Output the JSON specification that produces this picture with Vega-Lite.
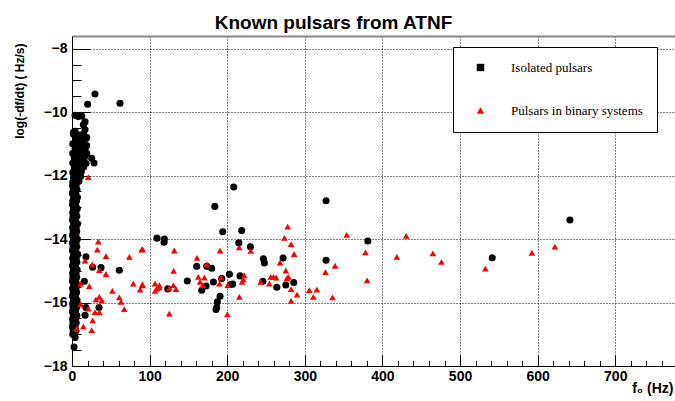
{
  "$schema": "https://vega.github.io/schema/vega-lite/v6.json",
  "width": 603,
  "height": 330,
  "autosize": {"type": "none"},
  "padding": {"left": 72, "top": 36, "right": 0, "bottom": 35},
  "background": "white",
  "title": {"text": "Known pulsars from ATNF", "font": "Liberation Sans", "fontSize": 19, "fontWeight": "bold", "color": "black", "anchor": "middle", "frame": "group", "dx": -40, "offset": -12, "baseline": "alphabetic"},
  "config": {
    "view": {"stroke": null},
    "axis": {"labelFont": "Liberation Sans", "labelFontWeight": "bold", "labelFontSize": 14, "labelColor": "black", "titleFont": "Liberation Sans", "titleFontWeight": "bold", "titleColor": "black", "domainColor": "black", "tickColor": "black", "labelFlush": false, "labelOverlap": false},
    "legend": {"orient": "none", "legendX": 381, "legendY": 11, "padding": 14, "strokeColor": "black", "strokeWidth": 1, "fillColor": "white", "labelFont": "Liberation Serif", "labelFontSize": 13, "labelColor": "black", "symbolOffset": 7, "labelOffset": 24, "rowPadding": 29, "symbolSize": 55, "symbolStrokeWidth": 0, "cornerRadius": 0}
  },
  "datasets": {
    "column": [
      {"f":3.9,"d":-10.1},{"f":8,"d":-10.14},{"f":12.6,"d":-10.12},{"f":16.8,"d":-10.3},{"f":14.6,"d":-10.4},{"f":3.9,"d":-10.6},{"f":1.7,"d":-10.64},{"f":16.8,"d":-10.55},{"f":19,"d":-10.8},{"f":25.4,"d":-11.45},{"f":28.4,"d":-11.6},
      {"f":2,"d":-10.7},{"f":9,"d":-10.72},{"f":15,"d":-10.68},
      {"f":5,"d":-10.85},{"f":12,"d":-10.87},{"f":18,"d":-10.83},
      {"f":1,"d":-11.0},{"f":8,"d":-11.02},{"f":14,"d":-10.98},{"f":19,"d":-11.05},
      {"f":4,"d":-11.15},{"f":11,"d":-11.17},{"f":17,"d":-11.13},
      {"f":1,"d":-11.3},{"f":7,"d":-11.32},{"f":13,"d":-11.28},{"f":19,"d":-11.3},
      {"f":3,"d":-11.45},{"f":10,"d":-11.47},{"f":16,"d":-11.43},
      {"f":1,"d":-11.6},{"f":6,"d":-11.62},{"f":12,"d":-11.58},{"f":18,"d":-11.62},
      {"f":3,"d":-11.75},{"f":9,"d":-11.77},{"f":15,"d":-11.73},
      {"f":1,"d":-11.9},{"f":6,"d":-11.92},{"f":12,"d":-11.88},
      {"f":2,"d":-12.05},{"f":8,"d":-12.07},{"f":11,"d":-12.03},
      {"f":1,"d":-12.2},{"f":6,"d":-12.22},{"f":9,"d":-12.18},
      {"f":0.8,"d":-12.32},{"f":5.2,"d":-12.32},
      {"f":1.6,"d":-12.44},{"f":6.4,"d":-12.44},
      {"f":0.5,"d":-12.56},{"f":4.8,"d":-12.56},
      {"f":2.2,"d":-12.68},{"f":7.0,"d":-12.68},
      {"f":1.0,"d":-12.8},{"f":5.8,"d":-12.8},
      {"f":0.6,"d":-12.92},{"f":4.5,"d":-12.92},
      {"f":1.8,"d":-13.04},{"f":6.8,"d":-13.04},
      {"f":0.9,"d":-13.16},{"f":5.0,"d":-13.16},
      {"f":1.4,"d":-13.28},{"f":6.2,"d":-13.28},
      {"f":0.5,"d":-13.4},{"f":4.6,"d":-13.4},
      {"f":2.0,"d":-13.52},{"f":7.2,"d":-13.52},
      {"f":0.8,"d":-13.64},{"f":5.4,"d":-13.64},
      {"f":1.5,"d":-13.76},{"f":6.0,"d":-13.76},
      {"f":0.6,"d":-13.88},{"f":4.9,"d":-13.88},
      {"f":1.9,"d":-14.0},{"f":6.9,"d":-14.0},
      {"f":0.7,"d":-14.12},{"f":5.3,"d":-14.12},
      {"f":1.3,"d":-14.24},{"f":6.1,"d":-14.24},
      {"f":0.5,"d":-14.36},{"f":4.7,"d":-14.36},
      {"f":2.1,"d":-14.48},{"f":7.4,"d":-14.48},
      {"f":0.9,"d":-14.6},{"f":5.5,"d":-14.6},
      {"f":1.6,"d":-14.72},{"f":6.3,"d":-14.72},
      {"f":0.6,"d":-14.84},{"f":4.6,"d":-14.84},
      {"f":1.8,"d":-14.96},{"f":6.6,"d":-14.96},
      {"f":0.8,"d":-15.08},{"f":5.1,"d":-15.08},
      {"f":1.2,"d":-15.2},{"f":6.0,"d":-15.2},
      {"f":0.5,"d":-15.32},{"f":4.8,"d":-15.32},
      {"f":2.0,"d":-15.44},{"f":7.0,"d":-15.44},
      {"f":0.7,"d":-15.56},{"f":5.2,"d":-15.56},
      {"f":1.5,"d":-15.68},{"f":5.9,"d":-15.68},
      {"f":0.6,"d":-15.8},{"f":4.4,"d":-15.8},
      {"f":1.9,"d":-15.92},{"f":6.5,"d":-15.92},
      {"f":0.8,"d":-16.04},{"f":5.0,"d":-16.04},
      {"f":1.3,"d":-16.16},{"f":5.8,"d":-16.16},
      {"f":0.5,"d":-16.28},{"f":4.3,"d":-16.28},
      {"f":1.7,"d":-16.4},{"f":6.2,"d":-16.4},
      {"f":0.8,"d":-16.52},{"f":4.8,"d":-16.52},
      {"f":1.2,"d":-16.64},{"f":5.4,"d":-16.64},
      {"f":0.6,"d":-16.76},{"f":4.0,"d":-16.76},
      {"f":1.5,"d":-16.88},{"f":5.0,"d":-16.88},
      {"f":1.0,"d":-17.0},{"f":3.5,"d":-17.0},
      {"f":4,"d":-17.1},{"f":2.6,"d":-17.4}
    ],
    "isolated": [
      {"f":29.6,"d":-9.43},{"f":20.2,"d":-9.75},{"f":61.9,"d":-9.72},
      {"f":109.5,"d":-13.97},{"f":18,"d":-14.56},{"f":26.6,"d":-14.89},{"f":37.4,"d":-14.9},{"f":61,"d":-14.98},{"f":15.9,"d":-15.33},{"f":18,"d":-16.16},{"f":34.8,"d":-16.16},{"f":16.8,"d":-16.4},
      {"f":208.4,"d":-12.36},{"f":184,"d":-12.97},{"f":327.4,"d":-12.79},{"f":119,"d":-14.0},{"f":118.6,"d":-14.1},{"f":194.2,"d":-13.77},{"f":218.7,"d":-13.73},{"f":214.9,"d":-14.12},{"f":229.9,"d":-14.24},{"f":246.6,"d":-14.62},{"f":247.9,"d":-14.75},{"f":272,"d":-14.6},{"f":327.4,"d":-14.67},{"f":160.7,"d":-14.86},{"f":173.6,"d":-14.86},{"f":180,"d":-14.92},{"f":148.6,"d":-15.32},{"f":182.2,"d":-15.35},{"f":193,"d":-15.24},{"f":202.8,"d":-15.11},{"f":207,"d":-15.42},{"f":204,"d":-15.43},{"f":216.6,"d":-15.16},{"f":172.7,"d":-15.48},{"f":167.2,"d":-15.61},{"f":123.4,"d":-15.57},{"f":245.9,"d":-15.33},{"f":263.9,"d":-15.52},{"f":275.5,"d":-15.45},{"f":285.8,"d":-15.37},{"f":190.8,"d":-15.8},{"f":187.3,"d":-15.98},{"f":186.5,"d":-16.16},{"f":185.6,"d":-16.22},
      {"f":381.2,"d":-14.06},{"f":541.5,"d":-14.59},{"f":641.6,"d":-13.4}
    ],
    "binary": [
      {"f":21,"d":-12.05},
      {"f":33.9,"d":-14.08},{"f":32.6,"d":-14.33},{"f":43.8,"d":-14.54},{"f":89.8,"d":-14.33},{"f":73.9,"d":-14.56},{"f":16.8,"d":-14.68},{"f":26.2,"d":-14.8},{"f":35.2,"d":-14.98},{"f":43.8,"d":-15.1},{"f":22.3,"d":-15.48},{"f":11.2,"d":-15.4},{"f":52,"d":-15.63},{"f":79,"d":-15.4},{"f":90.7,"d":-15.43},{"f":87.7,"d":-15.59},{"f":109.2,"d":-15.56},{"f":112.5,"d":-15.45},{"f":61,"d":-15.84},{"f":63.2,"d":-15.98},{"f":67.4,"d":-16.21},{"f":30.9,"d":-15.9},{"f":35.2,"d":-15.82},{"f":38.3,"d":-15.93},{"f":11.2,"d":-16.05},{"f":21,"d":-16.19},{"f":29.6,"d":-16.3},{"f":35.2,"d":-16.3},{"f":26.7,"d":-16.56},{"f":14.6,"d":-16.75},{"f":25.4,"d":-16.87},{"f":6,"d":-16.82},
      {"f":91,"d":-14.32},{"f":131.9,"d":-14.36},{"f":190.8,"d":-14.36},{"f":161.1,"d":-14.59},{"f":131,"d":-15.0},{"f":91,"d":-15.46},{"f":107,"d":-15.4},{"f":112.6,"d":-15.52},{"f":107,"d":-15.63},{"f":130.6,"d":-15.45},{"f":134,"d":-15.58},{"f":125.4,"d":-15.54},{"f":162.8,"d":-15.19},{"f":165,"d":-15.35},{"f":170.6,"d":-15.21},{"f":168.5,"d":-15.45},{"f":173.6,"d":-14.8},{"f":189.9,"d":-15.4},{"f":192,"d":-15.21},{"f":200.7,"d":-15.45},{"f":200.2,"d":-16.37},{"f":125.4,"d":-16.35},{"f":215.7,"d":-15.82},{"f":215.4,"d":-14.26},{"f":222,"d":-15.14},{"f":219.2,"d":-15.35},{"f":220.8,"d":-15.27},{"f":230.4,"d":-14.37},{"f":278,"d":-13.61},{"f":273.7,"d":-13.96},{"f":282.3,"d":-14.16},{"f":286.2,"d":-14.47},{"f":268.1,"d":-14.74},{"f":275.5,"d":-14.99},{"f":278.9,"d":-15.19},{"f":276.8,"d":-15.24},{"f":259.5,"d":-15.19},{"f":256.1,"d":-15.19},{"f":263,"d":-15.21},{"f":254.4,"d":-15.4},{"f":282.3,"d":-15.58},{"f":290,"d":-15.75},{"f":282.3,"d":-15.95},{"f":243.2,"d":-15.35},{"f":305.9,"d":-15.61},{"f":315.5,"d":-15.59},{"f":311.1,"d":-15.82},{"f":335.6,"d":-15.84},{"f":326.6,"d":-15.04},{"f":339,"d":-14.84},
      {"f":354.1,"d":-13.87},{"f":378.1,"d":-14.42},{"f":380.3,"d":-15.3},{"f":430.6,"d":-13.9},{"f":418.6,"d":-14.56},{"f":465,"d":-14.45},{"f":476.1,"d":-14.72},{"f":532.6,"d":-14.93},{"f":592.6,"d":-14.43},{"f":622.3,"d":-14.24}
    ]
  },
  "layer": [
    {
      "data": {"name": "column"},
      "mark": {"type": "point", "shape": "circle", "filled": true, "size": 50, "opacity": 1, "strokeWidth": 0},
      "encoding": {
        "x": {"field": "f", "type": "quantitative", "scale": {"domain": [0, 777], "nice": false, "zero": false},
          "axis": {"orient": "bottom", "values": [0, 100, 200, 300, 400, 500, 600, 700], "grid": true, "gridColor": "black", "gridDash": [1, 2], "gridOpacity": 1, "gridWidth": 1, "domainWidth": 1, "tickSize": -11, "labelPadding": 14, "title": "f₀ (Hz)", "titleFontSize": 14, "titleX": 601, "titleY": 26, "titleAlign": "right", "titleBaseline": "alphabetic"}},
        "y": {"field": "d", "type": "quantitative", "scale": {"domain": [-18, -7.6], "nice": false, "zero": false},
          "axis": {"orient": "left", "values": [-18, -16, -14, -12, -10, -8], "grid": true, "gridColor": "black", "gridDash": [1, 2], "gridOpacity": 1, "gridWidth": 1, "domainWidth": 1, "tickSize": -18, "labelPadding": 23, "title": "log(-df/dt) ( Hz/s)", "titleFontSize": 12, "titleAngle": -90, "titleX": -49, "titleY": 7, "titleAlign": "right", "titleBaseline": "alphabetic"}},
        "color": {"datum": "Isolated pulsars", "type": "nominal", "scale": {"domain": ["Isolated pulsars", "Pulsars in binary systems"], "range": ["#000000", "#ff0000"]},
          "legend": {"title": null, "labelExpr": "datum.label + '      '"}}
      }
    },
    {
      "data": {"name": "isolated"},
      "mark": {"type": "point", "shape": "circle", "filled": true, "size": 50, "opacity": 1, "strokeWidth": 0},
      "encoding": {
        "x": {"field": "f", "type": "quantitative",
          "axis": {"orient": "bottom", "values": [20, 40, 60, 80, 120, 140, 160, 180, 220, 240, 260, 280, 320, 340, 360, 380, 420, 440, 460, 480, 520, 540, 560, 580, 620, 640, 660, 680, 720, 740, 760], "grid": false, "labels": false, "domain": false, "tickSize": -5.5, "title": null}},
        "y": {"field": "d", "type": "quantitative",
          "axis": {"orient": "left", "values": [-17.5, -17, -16.5, -15.5, -15, -14.5, -13.5, -13, -12.5, -11.5, -11, -10.5, -9.5, -9, -8.5], "grid": false, "labels": false, "domain": false, "tickSize": -9, "title": null}},
        "color": {"datum": "Isolated pulsars", "type": "nominal"}
      }
    },
    {
      "data": {"name": "binary"},
      "mark": {"type": "point", "filled": true, "size": 45, "opacity": 1, "strokeWidth": 0},
      "encoding": {
        "x": {"field": "f", "type": "quantitative",
          "axis": {"orient": "top", "domain": true, "domainColor": "#888888", "domainWidth": 2, "ticks": false, "labels": false, "grid": false, "title": null}},
        "y": {"field": "d", "type": "quantitative", "axis": null},
        "color": {"datum": "Pulsars in binary systems", "type": "nominal", "legend": {"title": null, "labelExpr": "datum.label + '      '"}},
        "shape": {"datum": "Pulsars in binary systems", "type": "nominal", "scale": {"domain": ["Isolated pulsars", "Pulsars in binary systems"], "range": ["square", "triangle-up"]},
          "legend": {"title": null, "labelExpr": "datum.label + '      '"}}
      }
    }
  ],
  "resolve": {"axis": {"x": "independent", "y": "independent"}}
}
